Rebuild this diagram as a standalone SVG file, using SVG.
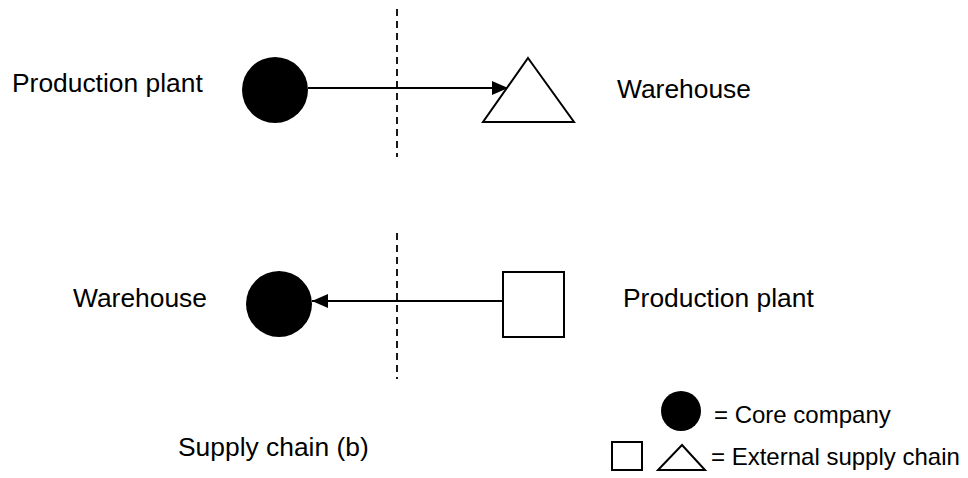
<svg xmlns="http://www.w3.org/2000/svg" width="968" height="478" viewBox="0 0 968 478">
<defs>
<style>
text{font-family:"Liberation Sans",Arial,sans-serif;fill:#000}
.lbl{font-size:26.4px}
.leg{font-size:24px}
.core{fill:#000}
.ext{fill:#fff;stroke:#000;stroke-width:2}
.conn{stroke:#000;stroke-width:1.8;fill:none}
.div{stroke:#000;stroke-width:1.8;stroke-dasharray:7,5;fill:none}
</style>
<marker id="arr" viewBox="0 0 16 14" refX="16" refY="7" markerWidth="16" markerHeight="14" markerUnits="userSpaceOnUse" orient="auto">
<path d="M0,0 L16,7 L0,14 Z" fill="#000"/>
</marker>
</defs>
<rect width="968" height="478" fill="#fff"/>
<g id="divider1"><line class="div" x1="397" y1="9" x2="397" y2="157"/></g>
<g id="divider2"><line class="div" x1="397" y1="233" x2="397" y2="379"/></g>
<g id="connectors">
<line class="conn" x1="308" y1="88" x2="508" y2="88" marker-end="url(#arr)"/>
<line class="conn" x1="503" y1="301" x2="312" y2="301" marker-end="url(#arr)"/>
</g>
<g id="plant1"><circle class="core" cx="275" cy="90" r="33"/><text class="lbl" x="12" y="92">Production plant</text></g>
<g id="warehouse1"><polygon class="ext" points="528,58 574,122 483,122"/><text class="lbl" x="617" y="98">Warehouse</text></g>
<g id="warehouse2"><circle class="core" cx="279" cy="304" r="33"/><text class="lbl" x="73" y="307">Warehouse</text></g>
<g id="plant2"><rect class="ext" x="503" y="272" width="61" height="65"/><text class="lbl" x="623" y="307">Production plant</text></g>
<g id="caption"><text class="lbl" x="178" y="456">Supply chain (b)</text></g>
<g id="legend">
<circle class="core" cx="681" cy="411" r="20"/>
<text class="leg" x="714" y="423">= Core company</text>
<rect class="ext" x="612" y="442" width="30" height="28"/>
<polygon class="ext" points="682,445 705,470 658,470"/>
<text class="leg" x="711" y="465">= External supply chain</text>
</g>
</svg>
